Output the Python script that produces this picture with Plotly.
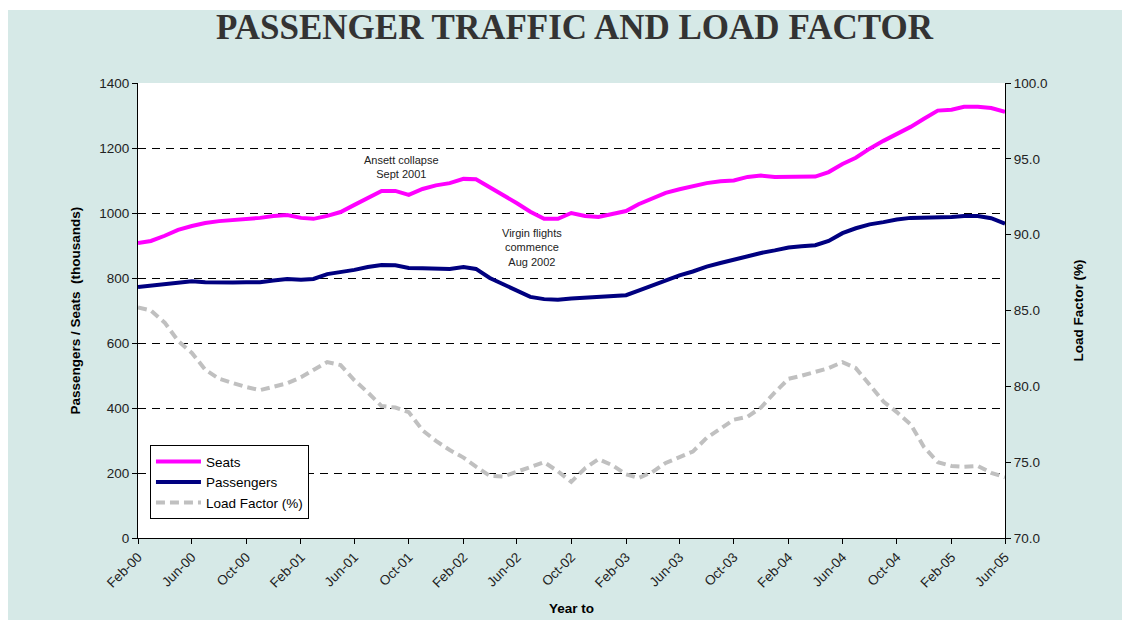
import pandas as pd
import plotly.graph_objects as go

months = pd.date_range("2000-02-01", "2005-06-01", freq="MS")

seats = [908, 914, 930, 948, 960, 969, 975, 978, 982, 985, 991, 994,
         985, 982, 991, 1003, 1025, 1046, 1068, 1068, 1056, 1074, 1085, 1092,
         1105, 1104, 1080, 1056, 1030, 1004, 982, 982, 1000, 991, 988, 997,
         1006, 1027, 1046, 1062, 1073, 1083, 1092, 1098, 1100, 1111, 1115, 1111,
         1111, 1112, 1112, 1126, 1151, 1170, 1198, 1222, 1243, 1265, 1290, 1315,
         1318, 1327, 1327, 1323, 1311]

passengers = [772, 776, 783, 787, 790, 787, 785, 786, 787, 787, 792, 797,
              795, 797, 812, 818, 825, 834, 840, 839, 831, 830, 828, 828,
              834, 828, 800, 780, 760, 742, 735, 733, 737, 740, 744, 746,
              747, 761, 777, 795, 808, 820, 835, 846, 856, 868, 877, 885,
              894, 898, 901, 914, 938, 953, 965, 972, 980, 985, 985, 988,
              988, 991, 991, 984, 967]

load_factor = [85.2, 85.0, 84.2, 83.0, 82.2, 81.1, 80.5, 80.2, 79.95, 79.75, 79.95, 80.2,
               80.6, 81.1, 81.6, 81.4, 80.4, 79.6, 78.7, 78.6, 78.3, 77.1, 76.4, 75.8,
               75.3, 74.7, 74.1, 74.05, 74.35, 74.7, 75.0, 74.4, 73.7, 74.6, 75.2, 74.8,
               74.2, 73.95, 74.35, 74.95, 75.35, 75.7, 76.6, 77.2, 77.8, 78.0, 78.6, 79.6,
               80.5, 80.7, 80.95, 81.2, 81.6, 81.2, 80.1, 79.0, 78.3, 77.5, 76.0, 75.0,
               74.75, 74.7, 74.75, 74.3, 74.0]

left_ticks = [0, 200, 400, 600, 800, 1000, 1200, 1400]
right_ticks = [70, 75, 80, 85, 90, 95, 100]

TEAL = "#d6e9e7"
TXT = "#222222"
FONT = "Liberation Sans, Arial, sans-serif"

fig = go.Figure()
fig.add_trace(go.Scatter(x=months, y=seats, name="Seats", mode="lines",
                         line=dict(color="#ff00ff", width=4)))
fig.add_trace(go.Scatter(x=months, y=passengers, name="Passengers", mode="lines",
                         line=dict(color="#000080", width=4)))
fig.add_trace(go.Scatter(x=months, y=load_factor, name="Load Factor (%)", mode="lines",
                         line=dict(color="#c0c0c0", width=4, dash="9px,5px"), yaxis="y2"))

# page body adds an 8px offset; plot area aimed at x 138-1005, y 83-538 of the page
PW, PH = 867, 455
fig.update_layout(
    width=1130, height=620,
    margin=dict(l=130, r=133, t=75, b=90),
    paper_bgcolor=TEAL, plot_bgcolor="white",
    font=dict(family=FONT, size=13.5, color=TXT),
    showlegend=True,
    legend=dict(x=0.0138, y=0.204, xanchor="left", yanchor="top",
                bgcolor="white", bordercolor="black", borderwidth=1, itemwidth=45,
                font=dict(size=13.5, color="black"), tracegroupgap=0),
    xaxis=dict(range=[months[0], months[-1]], tickformat="%b-%y", dtick="M4",
               tick0="2000-02-01", tickangle=-45, showline=True, linecolor="black",
               linewidth=1, ticks="outside", ticklen=5, tickcolor="black",
               showgrid=False, zeroline=False, tickfont=dict(size=13.5, color=TXT)),
    yaxis=dict(range=[0, 1400], tickvals=left_ticks, showline=True, linecolor="black",
               linewidth=1, ticks="outside", ticklen=5, tickcolor="black",
               showgrid=True, gridcolor="black", gridwidth=1, griddash="8px,6px",
               zeroline=False, tickfont=dict(size=13.5, color=TXT)),
    yaxis2=dict(range=[70, 100], tickvals=right_ticks, overlaying="y", side="right",
                tickformat=".1f", ticksuffix="%", showline=True, linecolor="black",
                linewidth=1, ticks="outside", ticklen=5, tickcolor="black",
                showgrid=False, zeroline=False, tickfont=dict(size=13.5, color=TXT)),
)

annotations = [
    dict(text="<b>PASSENGER TRAFFIC AND LOAD FACTOR</b>", xref="paper", yref="paper",
         x=0.504, y=(538 - 28) / PH, xanchor="center", yanchor="middle", showarrow=False,
         font=dict(family="Liberation Serif, Times New Roman, serif", size=35, color="#333333")),
    dict(text="<b>Passengers / Seats  (thousands)</b>", xref="paper", yref="paper",
         x=(75 - 138) / PW, y=0.5, xanchor="center", yanchor="middle",
         textangle=-90, showarrow=False, font=dict(size=13.5, color="black")),
    dict(text="<b>Load Factor (%)</b>", xref="paper", yref="paper",
         x=(1078 - 138) / PW, y=0.5, xanchor="center", yanchor="middle",
         textangle=-90, showarrow=False, font=dict(size=13.5, color="black")),
    dict(text="<b>Year to</b>", xref="paper", yref="paper",
         x=(571 - 138) / PW, y=(538 - 608) / PH, xanchor="center", yanchor="middle",
         showarrow=False, font=dict(size=13.5, color="black")),
    dict(text="Ansett collapse<br>Sept 2001", x="2001-09-15", y=1141, xref="x", yref="y",
         showarrow=False, font=dict(size=11, color=TXT)),
    dict(text="Virgin flights<br>commence<br>Aug 2002", x="2002-07-05", y=895, xref="x", yref="y",
         showarrow=False, font=dict(size=11, color=TXT)),
]
fig.update_layout(annotations=annotations)

fig.update_layout(shapes=[
    dict(type="rect", xref="paper", yref="paper", x0=-0.2, x1=1.2,
         y0=(538 - 10) / PH, y1=1.25, fillcolor="white", line=dict(width=0), layer="above"),
])

fig.write_html("out.html")
